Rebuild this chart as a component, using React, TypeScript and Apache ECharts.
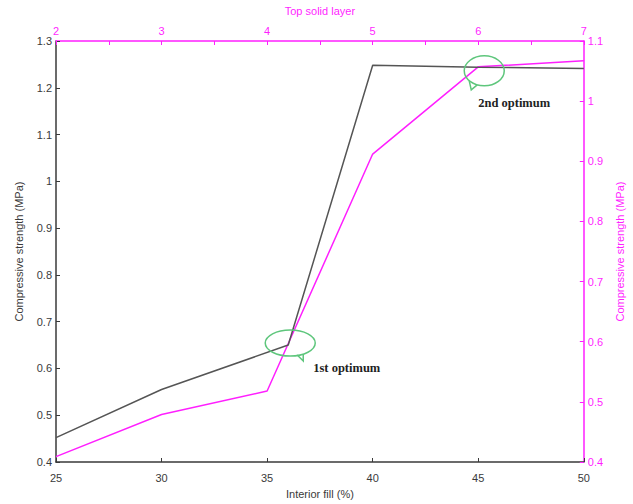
import React, { useEffect, useRef } from "react";
import * as echarts from "echarts";

const interiorFill = [25, 30, 36, 40, 45, 50];
const strengthByFill = [0.452, 0.555, 0.65, 1.248, 1.244, 1.241];
const topSolidLayer = [2, 3, 4, 5, 6, 7];
const strengthByLayer = [0.409, 0.479, 0.518, 0.912, 1.057, 1.067];

const MAGENTA = "#ff1fff";
const DARK = "#3a3a3a";
const GREEN = "#5ec67c";
const FONT = "Liberation Sans";

export default function App() {
  const ref = useRef<HTMLDivElement>(null);
  useEffect(() => {
    document.body.style.margin = "0";
    const chart = echarts.init(ref.current!, null, { renderer: "svg" });
    const labelStyle = (color: string) => ({ color, fontFamily: FONT, fontSize: 11 });
    chart.setOption({
      animation: false,
      backgroundColor: "#fff",
      grid: { left: 56, right: 45, top: 41, bottom: 37, containLabel: false },
      xAxis: [
        {
          type: "value",
          position: "bottom",
          min: 25,
          max: 50,
          interval: 5,
          name: "Interior fill (%)",
          nameLocation: "middle",
          nameGap: 26,
          nameTextStyle: labelStyle(DARK),
          axisLine: { show: true, lineStyle: { color: DARK, width: 1.5 } },
          axisTick: { show: true, inside: true, length: 4, lineStyle: { color: DARK } },
          axisLabel: { ...labelStyle(DARK), margin: 10, showMinLabel: true, showMaxLabel: true },
          splitLine: { show: false },
        },
        {
          type: "value",
          position: "top",
          min: 2,
          max: 7,
          interval: 0.5,
          name: "Top solid layer",
          nameLocation: "middle",
          nameGap: 25,
          nameTextStyle: labelStyle(MAGENTA),
          axisLine: { show: true, lineStyle: { color: MAGENTA, width: 1.5 } },
          axisTick: { show: true, inside: true, length: 4, lineStyle: { color: MAGENTA } },
          axisLabel: {
            ...labelStyle(MAGENTA),
            margin: 5,
            showMinLabel: true,
            showMaxLabel: true,
            formatter: (v: number) => (Number.isInteger(v) ? String(v) : ""),
          },
          splitLine: { show: false },
        },
      ],
      yAxis: [
        {
          type: "value",
          position: "left",
          min: 0.4,
          max: 1.3,
          interval: 0.1,
          name: "Compressive strength (MPa)",
          nameLocation: "middle",
          nameGap: 32,
          nameRotate: 90,
          nameTextStyle: labelStyle(DARK),
          axisLine: { show: true, lineStyle: { color: DARK, width: 1.5 } },
          axisTick: { show: true, inside: true, length: 4, lineStyle: { color: DARK } },
          axisLabel: {
            ...labelStyle(DARK),
            margin: 4,
            showMinLabel: true,
            showMaxLabel: true,
            formatter: (v: number) => String(Math.round(v * 10) / 10),
          },
          splitLine: { show: false },
        },
        {
          type: "value",
          position: "right",
          min: 0.4,
          max: 1.1,
          interval: 0.1,
          name: "Compressive strength (MPa)",
          nameLocation: "middle",
          nameGap: 28,
          nameRotate: 90,
          nameTextStyle: labelStyle(MAGENTA),
          axisLine: { show: true, lineStyle: { color: MAGENTA, width: 1.5 } },
          axisTick: { show: true, inside: true, length: 4, lineStyle: { color: MAGENTA } },
          axisLabel: {
            ...labelStyle(MAGENTA),
            margin: 4,
            showMinLabel: true,
            showMaxLabel: true,
            formatter: (v: number) => String(Math.round(v * 10) / 10),
          },
          splitLine: { show: false },
        },
      ],
      series: [
        {
          name: "Interior fill",
          type: "line",
          xAxisIndex: 0,
          yAxisIndex: 0,
          data: interiorFill.map((x, i) => [x, strengthByFill[i]]),
          showSymbol: false,
          lineStyle: { color: "#555", width: 1.5 },
          z: 3,
        },
        {
          name: "Top solid layer",
          type: "line",
          xAxisIndex: 1,
          yAxisIndex: 1,
          data: topSolidLayer.map((x, i) => [x, strengthByLayer[i]]),
          showSymbol: false,
          lineStyle: { color: MAGENTA, width: 1.5 },
          z: 2,
        },
      ],
    });

    const p1 = chart.convertToPixel({ xAxisIndex: 0, yAxisIndex: 0 }, [interiorFill[2], strengthByFill[2]]) as number[];
    const p2 = chart.convertToPixel({ xAxisIndex: 1, yAxisIndex: 1 }, [topSolidLayer[4], strengthByLayer[4]]) as number[];
    const bubble = { stroke: GREEN, lineWidth: 1.5, fill: "none" };
    const textStyle = { fontFamily: "Liberation Serif", fontWeight: "bold", fontSize: 12.5, fill: "#222", textVerticalAlign: "middle" };
    chart.setOption({
      graphic: [
        { type: "ellipse", shape: { cx: p1[0] + 2, cy: p1[1] - 2, rx: 25, ry: 13 }, style: bubble, z: 10 },
        {
          type: "polyline",
          shape: { points: [[p1[0] + 9, p1[1] + 10], [p1[0] + 15, p1[1] + 16], [p1[0] + 15, p1[1] + 9]] },
          style: { stroke: GREEN, lineWidth: 1.5, fill: "none" },
          z: 10,
        },
        { type: "text", x: p1[0] + 25, y: p1[1] + 23, style: { text: "1st optimum", ...textStyle }, z: 10 },
        { type: "ellipse", shape: { cx: p2[0] + 6, cy: p2[1] + 4, rx: 20, ry: 15 }, style: bubble, z: 10 },
        {
          type: "polyline",
          shape: { points: [[p2[0] - 9, p2[1] + 14], [p2[0] - 7, p2[1] + 23], [p2[0] - 1, p2[1] + 18]] },
          style: { stroke: GREEN, lineWidth: 1.5, fill: "none" },
          z: 10,
        },
        { type: "text", x: p2[0], y: p2[1] + 36, style: { text: "2nd optimum", ...textStyle }, z: 10 },
      ],
    });
    return () => chart.dispose();
  }, []);
  return <div ref={ref} style={{ width: 633, height: 504 }} />;
}
